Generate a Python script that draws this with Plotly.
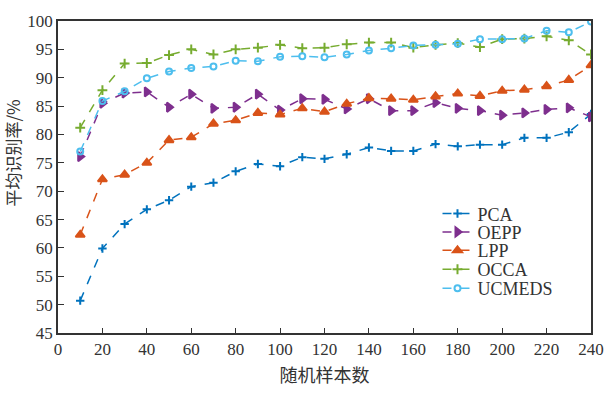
import plotly.graph_objects as go

x = [10, 20, 30, 40, 50, 60, 70, 80, 90, 100, 110, 120, 130, 140, 150, 160, 170, 180, 190, 200, 210, 220, 230, 240]

pca = [50.7, 59.9, 64.2, 66.8, 68.4, 70.8, 71.5, 73.5, 74.8, 74.4, 76.0, 75.7, 76.5, 77.7, 77.1, 77.1, 78.3, 77.9, 78.2, 78.2, 79.4, 79.4, 80.4, 83.6]
oepp = [76.1, 85.5, 87.3, 87.5, 84.8, 87.1, 84.6, 84.8, 87.1, 84.3, 86.3, 86.2, 84.5, 86.3, 84.2, 84.2, 85.6, 84.6, 84.2, 83.4, 83.8, 84.4, 84.7, 83.1]
lpp = [62.3, 72.1, 72.9, 75.0, 79.0, 79.5, 81.9, 82.5, 83.8, 83.5, 84.6, 84.0, 85.4, 86.4, 86.3, 86.1, 86.7, 87.2, 86.8, 87.7, 87.9, 88.5, 89.6, 92.2]
occa = [81.2, 87.8, 92.5, 92.6, 94.0, 95.0, 94.1, 95.0, 95.3, 95.8, 95.2, 95.3, 95.9, 96.2, 96.2, 95.3, 95.8, 96.1, 95.4, 96.8, 96.9, 97.3, 96.6, 94.1]
ucmeds = [77.0, 85.9, 87.6, 89.9, 91.1, 91.7, 92.0, 93.0, 92.9, 93.7, 93.8, 93.6, 94.1, 94.8, 95.2, 95.7, 95.8, 96.0, 96.8, 96.8, 96.9, 98.3, 98.0, 99.9]

names = ["PCA", "OEPP", "LPP", "OCCA", "UCMEDS"]
colors = ["#0072BD", "#7E2F8E", "#D95319", "#77AC30", "#4DBEEE"]
symbols = ["cross-thin-open", "triangle-right", "triangle-up", "cross-thin-open", "circle-open"]
sizes = [6, 8, 8, 7, 6]
series = [pca, oepp, lpp, occa, ucmeds]

FONT = "Liberation Serif, Times New Roman, Noto Sans CJK SC, serif"
CJK = "Noto Sans CJK SC"
TXT = "#333"

# plot area in pixels: left 58, right 601, top 16, bottom 338
H_PLOT = 322.0
legend_centers_px = [215, 234, 253, 272.5, 292]
legend_ids = ["legend", "legend2", "legend3", "legend4", "legend5"]

fig = go.Figure()
for n, c, s, sz, y, lid in zip(names, colors, symbols, sizes, series, legend_ids):
    fig.add_trace(go.Scatter(
        x=x, y=y, name=n, mode="lines+markers", legend=lid,
        line=dict(color=c, width=1.5, dash="dash"),
        marker=dict(symbol=s, size=sz, color=c, line=dict(color=c, width=2)),
    ))

layout_legends = {}
for lid, cy in zip(legend_ids, legend_centers_px):
    layout_legends[lid] = dict(
        x=0.712, y=(338 - cy) / H_PLOT, xanchor="left", yanchor="middle",
        bgcolor="rgba(0,0,0,0)", borderwidth=0,
        font=dict(size=18, family=FONT, color=TXT),
        itemwidth=30,
    )

fig.update_layout(
    width=616, height=395,
    margin=dict(l=58, r=15, t=16, b=57),
    paper_bgcolor="white", plot_bgcolor="white",
    font=dict(family=FONT, size=17, color=TXT),
    showlegend=True,
    **layout_legends,
)
fig.add_annotation(
    text="平均识别率/%", textangle=-90, showarrow=False,
    xref="paper", yref="paper", x=(12 - 58) / 543.0, y=(338 - 152) / H_PLOT,
    xanchor="center", yanchor="middle",
    font=dict(size=17, family=CJK, color=TXT),
)
fig.update_xaxes(
    range=[0, 240], tickvals=list(range(0, 241, 20)),
    ticks="inside", ticklen=5, tickcolor=TXT,
    showline=True, linecolor=TXT, linewidth=1.5, mirror=True,
    showgrid=False, zeroline=False,
    tickfont=dict(size=17, family=FONT, color=TXT),
    title=dict(text="随机样本数", font=dict(size=18, family=CJK, color=TXT), standoff=11),
)
fig.update_yaxes(
    range=[45, 100], tickvals=list(range(45, 101, 5)),
    ticks="inside", ticklen=6, tickcolor=TXT,
    showline=True, linecolor=TXT, linewidth=1.5, mirror=True,
    showgrid=False, zeroline=False,
    tickfont=dict(size=17, family=FONT, color=TXT),
)

fig.write_html("out.html")
